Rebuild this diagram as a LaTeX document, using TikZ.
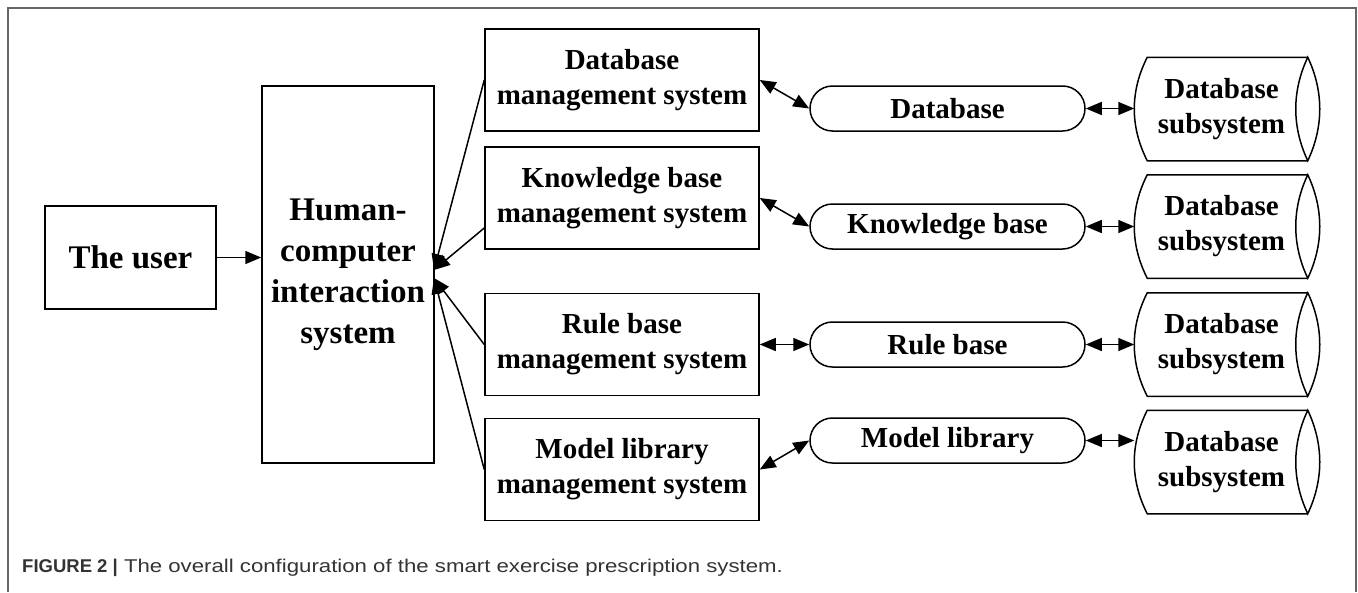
\documentclass[tikz,border=0pt]{standalone}
\usepackage{fontspec}
\setmainfont{Liberation Serif}
\newfontfamily\capfont[FakeStretch=1.2]{Liberation Sans}
\newfontfamily\capbf{Liberation Sans}
\usetikzlibrary{arrows.meta}
\begin{document}
\begin{tikzpicture}[x=1pt,y=-1pt,
  box/.style={draw, line width=1.5pt, align=center, inner sep=0pt,
    font=\fontsize{29}{35}\bfseries\selectfont},
  bigbox/.style={box, font=\fontsize{33}{41}\bfseries\selectfont},
  store/.style={box, rounded corners=22.5pt, minimum width=275pt, minimum height=45pt},
  cyl/.style={box, draw=none, minimum width=184pt, minimum height=102pt},
  link/.style={line width=1.5pt, -{Triangle[length=16pt,width=13pt]}},
  both/.style={line width=1.5pt, {Triangle[length=16pt,width=13pt]}-{Triangle[length=16pt,width=13pt]}}]
\useasboundingbox (0,0) rectangle (1358,592);
\draw[line width=2pt, black!60] (8,592) |- (1356,8) -- (1356,592);

\node[bigbox, minimum width=171pt, minimum height=103pt] (user) at (130.5,257.5) {The user};
\node[bigbox, minimum width=172pt, minimum height=377pt] (hci) at (348,274.5) {Human-\\computer\\interaction\\system};
\coordinate (hciA) at (434,270);
\coordinate (hciB) at (434,278);

\node[box, minimum width=274pt, minimum height=102pt] (dbm) at (622,80) {Database\\management system};
\node[box, minimum width=274pt, minimum height=102pt] (kbm) at (622,198) {Knowledge base\\management system};
\node[box, minimum width=274pt, minimum height=102pt] (rbm) at (622,344.5) {Rule base\\management system};
\node[box, minimum width=274pt, minimum height=102pt] (mlm) at (622,469.5) {Model library\\management system};

\node[store] (db) at (947.5,108.5) {Database};
\node[store] (kb) at (947.5,226.5) {Knowledge base};
\node[store] (rb) at (947.5,344.5) {Rule base};
\node[store] (ml) at (947.5,440.5) {Model library};

\node[cyl] (sub1) at (1227,109) {\hspace*{-11pt}Database\\\hspace*{-11pt}subsystem};
\node[cyl] (sub2) at (1227,226.5) {\hspace*{-11pt}Database\\\hspace*{-11pt}subsystem};
\node[cyl] (sub3) at (1227,344.5) {\hspace*{-11pt}Database\\\hspace*{-11pt}subsystem};
\node[cyl] (sub4) at (1227,462) {\hspace*{-11pt}Database\\\hspace*{-11pt}subsystem};
% cylinder outlines
\foreach \s in {sub1,sub2,sub3,sub4}{
  \draw[line width=1.5pt] ([xshift=-12pt]\s.north east) -- ([xshift=13pt]\s.north west)
    .. controls +(-17.3,34) and +(-17.3,-34) .. ([xshift=13pt]\s.south west)
    -- ([xshift=-12pt]\s.south east);
  \draw[line width=1.5pt] ([xshift=-12pt]\s.north east)
    .. controls +(16,34) and +(16,-34) .. ([xshift=-12pt]\s.south east)
    .. controls +(-16,-34) and +(-16,34) .. cycle;
}

\draw[link](user.east) -- (user.east -| hci.west);
\draw[link](dbm.west) -- (hciA);
\draw[link]([yshift=-30pt]kbm.west) -- (hciA);
\draw[link](rbm.west) -- (hciB);
\draw[link](mlm.west) -- (hciB);

\draw[both](dbm.east) -- (db.west);
\draw[both](kbm.east) -- (kb.west);
\draw[both](rbm.east) -- (rb.west);
\draw[both](mlm.east) -- (ml.west);

\draw[both](db.east) -- (db.east -| sub1.west);
\draw[both](kb.east) -- (kb.east -| sub2.west);
\draw[both](rb.east) -- (rb.east -| sub3.west);
\draw[both](ml.east) -- (ml.east -| sub4.west);

\node[anchor=base west, inner sep=0pt, text=black!80] (cap) at (22,572)
  {\capbf\bfseries\fontsize{18.5}{22}\selectfont FIGURE 2 |\capfont\mdseries\ The overall configuration of the smart exercise prescription system.};
\end{tikzpicture}
\end{document}
